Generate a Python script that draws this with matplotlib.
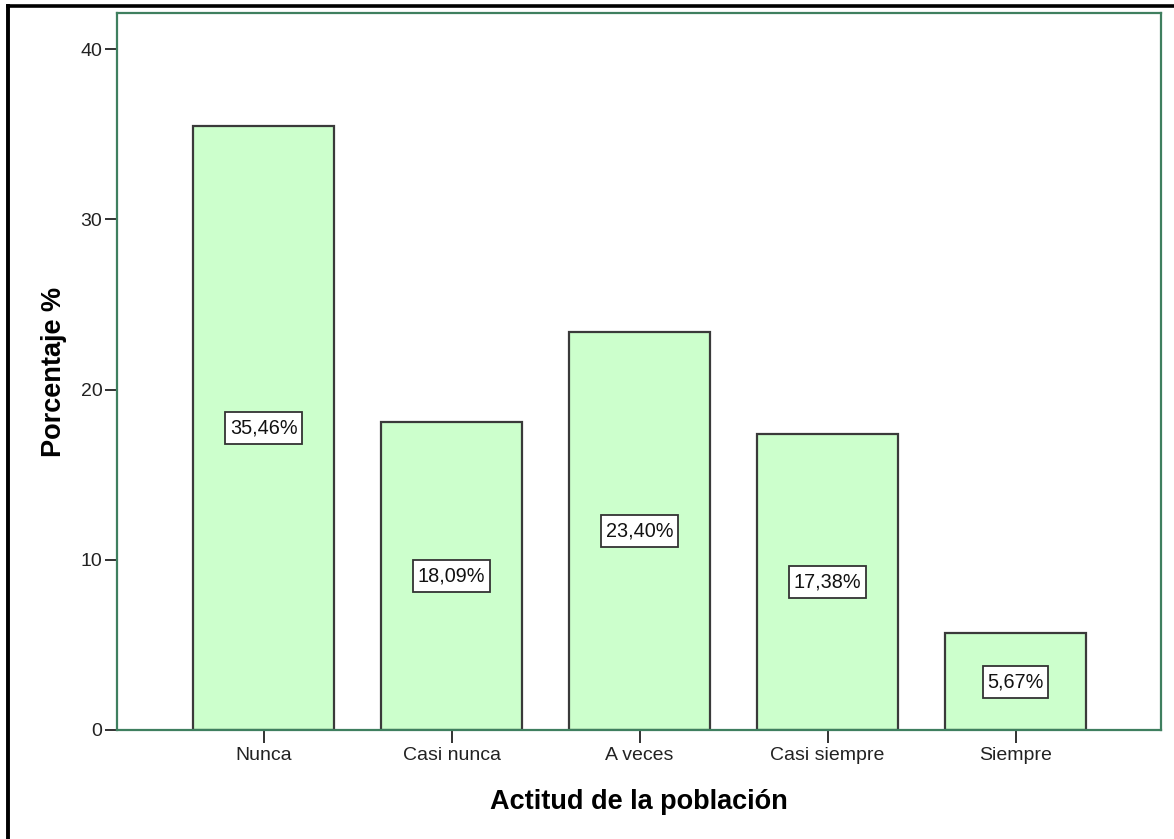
import matplotlib
matplotlib.use("Agg")
import matplotlib.pyplot as plt
from matplotlib.lines import Line2D
from matplotlib.path import Path

categories = ["Nunca", "Casi nunca", "A veces", "Casi siempre", "Siempre"]
values = [35.46, 18.09, 23.40, 17.38, 5.67]
labels = ["35,46%", "18,09%", "23,40%", "17,38%", "5,67%"]
yticks = [0, 10, 20, 30, 40]

plt.rcParams['font.family'] = ['Liberation Sans', 'DejaVu Sans']


def label_box(x0, y0, width, height, mutation_size):
    px = 0.24 * mutation_size
    py = 0.33 * mutation_size
    x0, y0 = x0 - px, y0 - py
    x1, y1 = x0 + width + 2 * px, y0 + height + 2 * py
    return Path([(x0, y0), (x1, y0), (x1, y1), (x0, y1), (x0, y0)], closed=True)


W, H = 1174, 839
fig = plt.figure(figsize=(W / 100, H / 100), dpi=100)
ax = fig.add_axes([117 / W, 1 - 730 / H, (1161 - 117) / W, (730 - 13) / H])

x = list(range(len(categories)))
ax.bar(x, values, width=0.75, color='#ccffcc', edgecolor='#3a3a3a', linewidth=1.6, zorder=2)

for xi, v, lab in zip(x, values, labels):
    ax.text(xi, v / 2, lab, ha='center', va='center', fontsize=14.3, color='#111111', zorder=3,
            bbox=dict(boxstyle=label_box, facecolor='white', edgecolor='#333333', linewidth=1.3))

ax.set_xlim(-0.78, 4.774)
ax.set_ylim(0, (730 - 13) / 17.025)
ax.set_xticks(x)
ax.set_xticklabels(categories)
ax.set_yticks(yticks)
ax.tick_params(axis='both', direction='out', length=9, width=1.3, color='#222222',
               labelsize=14, labelcolor='#222222')
ax.tick_params(axis='y', pad=1.5)
ax.tick_params(axis='x', pad=3)

for s in ax.spines.values():
    s.set_color('#3f7f5f')
    s.set_linewidth(1.6)

ax.set_xlabel("Actitud de la población", fontsize=19.5, fontweight='bold', labelpad=18)
ax.set_ylabel("Porcentaje %", fontsize=19.5, fontweight='bold', labelpad=10)

# outer border lines (left and top)
fig.add_artist(Line2D([8 / W, 8 / W], [0, 1 - 5.5 / H], transform=fig.transFigure, color='black', linewidth=2.8))
fig.add_artist(Line2D([8 / W, 1], [1 - 5.5 / H, 1 - 5.5 / H], transform=fig.transFigure, color='black', linewidth=2.6))

fig.savefig("out.png", dpi=100)
